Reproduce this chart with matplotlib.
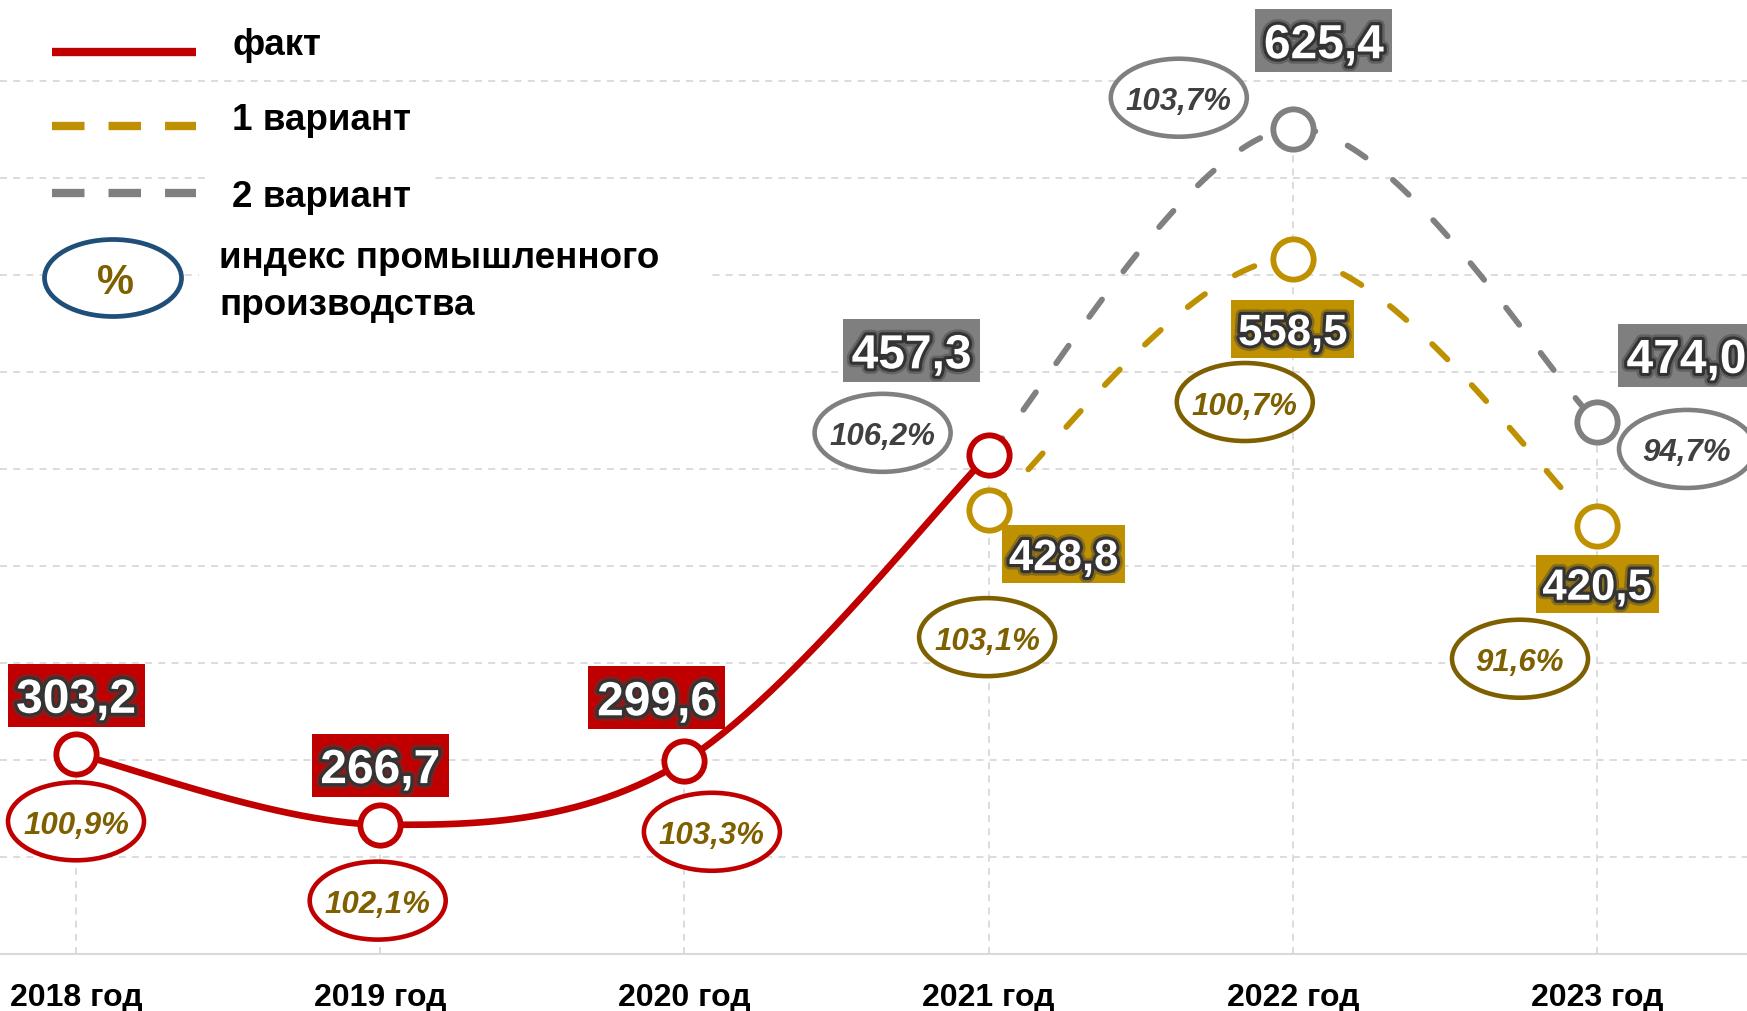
import numpy as np
import matplotlib
matplotlib.use("Agg")
import matplotlib.pyplot as plt
from matplotlib.patches import Rectangle, Ellipse
from matplotlib.lines import Line2D
from matplotlib.transforms import Affine2D, ScaledTranslation
import matplotlib.patheffects as pe

plt.rcParams['font.family'] = ['Liberation Sans', 'DejaVu Sans']
plt.rcParams['lines.scale_dashes'] = False

# ---------------- data ----------------
years = ['2018 год', '2019 год', '2020 год', '2021 год', '2022 год', '2023 год']
fact_x = [0, 1, 2, 3]
fact = [303.2, 266.7, 299.6, 457.3]
fact_idx = ['100,9%', '102,1%', '103,3%']          # 2018-2020
var_x = [3, 4, 5]
var1 = [428.8, 558.5, 420.5]
var1_idx = ['103,1%', '100,7%', '91,6%']
var2 = [457.3, 625.4, 474.0]
var2_idx = ['106,2%', '103,7%', '94,7%']
legend_labels = ['факт', '1 вариант', '2 вариант', 'индекс промышленного\nпроизводства']

# ---------------- style ----------------
RED = '#c00000'
GOLD = '#bf9000'
DGOLD = '#7f6000'
GRAY = '#808080'
BOXGRAY = '#7f7f7f'
TXTGRAY = '#404040'
NAVY = '#1f4e79'
GRID = '#d9d9d9'

W, H = 1747, 1011
fig = plt.figure(figsize=(W / 100, H / 100), dpi=100)
ax = fig.add_axes([0, (H - 954) / H, 1, 954 / H])
ax.set_xlim(-76 / 304.2, (W - 76) / 304.2)
ax.set_ylim(200, 200 + 954 / 1.94)

for s in ['left', 'right', 'top']:
    ax.spines[s].set_visible(False)
ax.spines['bottom'].set_color(GRID)
ax.spines['bottom'].set_linewidth(1.5)
ax.set_yticks(np.arange(250, 651, 50))
ax.tick_params(axis='y', length=0, labelleft=False)
ax.yaxis.grid(True, color=GRID, lw=1.3, dashes=(5, 4.5), zorder=0)
ax.set_axisbelow(True)
ax.set_xticks(range(len(years)))
ax.set_xticklabels(years, fontsize=23, fontweight='bold', color='black')
ax.tick_params(axis='x', length=0, pad=21)

# drop lines from highest point of each year
tops = {}
for xs, ys in [(fact_x, fact), (var_x, var1), (var_x, var2)]:
    for x, y in zip(xs, ys):
        tops[x] = max(tops.get(x, 0), y)
ax.vlines(list(tops.keys()), 200, list(tops.values()), colors=GRID, lw=1.3,
          linestyles=[(0, (5, 4.5))], zorder=1)


def smooth(xs, ys, n=60):
    P = np.column_stack([xs, ys]).astype(float)
    out = []
    t = np.linspace(0, 1, n)[:, None]
    for i in range(len(P) - 1):
        p0 = P[i - 1] if i > 0 else P[i]
        p1, p2 = P[i], P[i + 1]
        p3 = P[i + 2] if i + 2 < len(P) else P[i + 1]
        c1 = p1 + (p2 - p0) / 6
        c2 = p2 - (p3 - p1) / 6
        seg = ((1 - t) ** 3) * p1 + 3 * ((1 - t) ** 2) * t * c1 + 3 * (1 - t) * t ** 2 * c2 + t ** 3 * p2
        out.append(seg if i == 0 else seg[1:])
    pts = np.vstack(out)
    return pts[:, 0], pts[:, 1]


sx, sy = smooth(fact_x, fact)
ax.plot(sx, sy, color=RED, lw=4.8, zorder=3, solid_capstyle='round')
sx, sy = smooth(var_x, var2)
ax.plot(sx, sy, color=GRAY, lw=4.2, dashes=(15.5, 25.5), dash_capstyle='round', zorder=3)
sx, sy = smooth(var_x, var1)
ax.plot(sx, sy, color=GOLD, lw=4.2, dashes=(15.5, 25.5), dash_capstyle='round', zorder=3)

mk = dict(marker='o', ms=29, mew=4.2, mfc='white', ls='none', zorder=4)
ax.plot(var_x[1:], var2[1:], mec=GRAY, **mk)
ax.plot(var_x, var1, mec=GOLD, **mk)
ax.plot(fact_x, fact, mec=RED, **mk)


def px_at(x, y):
    return Affine2D() + ScaledTranslation(x, y, ax.transData)


glow = [pe.Stroke(linewidth=8, foreground='#404040', alpha=0.45),
        pe.Stroke(linewidth=4.5, foreground='#333333'), pe.Normal()]


def value_label(x, y, off, fc, size, fs):
    bw, bh = size
    ax.add_patch(Rectangle((off[0] - bw / 2, off[1] - bh / 2), bw, bh, fc=fc, ec='none',
                           transform=px_at(x, y), zorder=5, clip_on=False))
    ax.annotate(f"{y:.1f}".replace('.', ','), xy=(x, y), xytext=off, textcoords='offset pixels',
                ha='center', va='center_baseline', fontsize=fs, fontweight='bold', color='white',
                path_effects=glow, zorder=6, annotation_clip=False)


def index_label(x, y, off, text, ec, tc):
    ax.add_patch(Ellipse(off, 136, 78, fc='white', ec=ec, lw=3.3,
                         transform=px_at(x, y), zorder=5, clip_on=False))
    ax.annotate(text, xy=(x, y), xytext=(off[0], off[1] - 1), textcoords='offset pixels',
                ha='center', va='center_baseline', fontsize=22.5, fontstyle='italic',
                fontweight='bold', color=tc, zorder=6, annotation_clip=False)


fact_box_off = [(0, 58.5), (0, 59), (-27.5, 63)]
fact_ell_off = [(0, -67.5), (-2.5, -76), (27.5, -71)]
var2_box_off = [(-77, 104), (31, 88), (89.5, 67)]
var2_ell_off = [(-106, 22), (-114, 31), (90, -26.5)]
var1_box_off = [(75, -44), (0, -70.5), (0, -57.5)]
var1_ell_off = [(-1.5, -127), (-48, -143.5), (-77, -132.5)]

for i in range(3):
    value_label(fact_x[i], fact[i], fact_box_off[i], RED, (137, 63), 34.5)
    index_label(fact_x[i], fact[i], fact_ell_off[i], fact_idx[i], RED, DGOLD)
for i in range(3):
    value_label(var_x[i], var2[i], var2_box_off[i], BOXGRAY, (137, 63), 34.5)
    index_label(var_x[i], var2[i], var2_ell_off[i], var2_idx[i], GRAY, TXTGRAY)
    value_label(var_x[i], var1[i], var1_box_off[i], GOLD, (123, 58), 31.5)
    index_label(var_x[i], var1[i], var1_ell_off[i], var1_idx[i], DGOLD, DGOLD)

# ---------------- legend (pixel layout, y from top) ----------------
T = Affine2D().scale(1, -1).translate(0, H)
lg = dict(transform=T, clip_on=False, zorder=7)
ax.add_line(Line2D([52, 196], [52, 52], color=RED, lw=6, solid_capstyle='butt', **lg))
ax.add_line(Line2D([52, 196], [126, 126], color=GOLD, lw=6, dashes=(23.4, 17.3),
                   dash_capstyle='butt', **lg))
ax.add_line(Line2D([52, 196], [193, 193], color=GRAY, lw=6, dashes=(23.4, 17.3),
                   dash_capstyle='butt', **lg))
ax.add_patch(Rectangle((210, 168), 225, 52, fc='white', ec='none', **lg))
ax.add_patch(Rectangle((199, 238), 508, 88, fc='white', ec='none', **lg))
ax.add_patch(Ellipse((113, 278), 137, 77, fc='white', ec=NAVY, lw=3.4, **lg))
tk = dict(transform=T, fontsize=26.5, fontweight='bold', color='black', ha='left',
          va='baseline', zorder=8)
ax.text(232, 55, legend_labels[0], **tk)
ax.text(232, 130, legend_labels[1], **tk)
ax.text(232, 207, legend_labels[2], **tk)
l1, l2 = legend_labels[3].split('\n')
ax.text(219, 268, l1, **tk)
ax.text(219, 315, l2, **tk)
ax.text(116, 278, '%', transform=T, fontsize=30, fontweight='bold', color=DGOLD, ha='center',
        va='center_baseline', zorder=8)

fig.savefig('out.png', dpi=100, facecolor='white')
